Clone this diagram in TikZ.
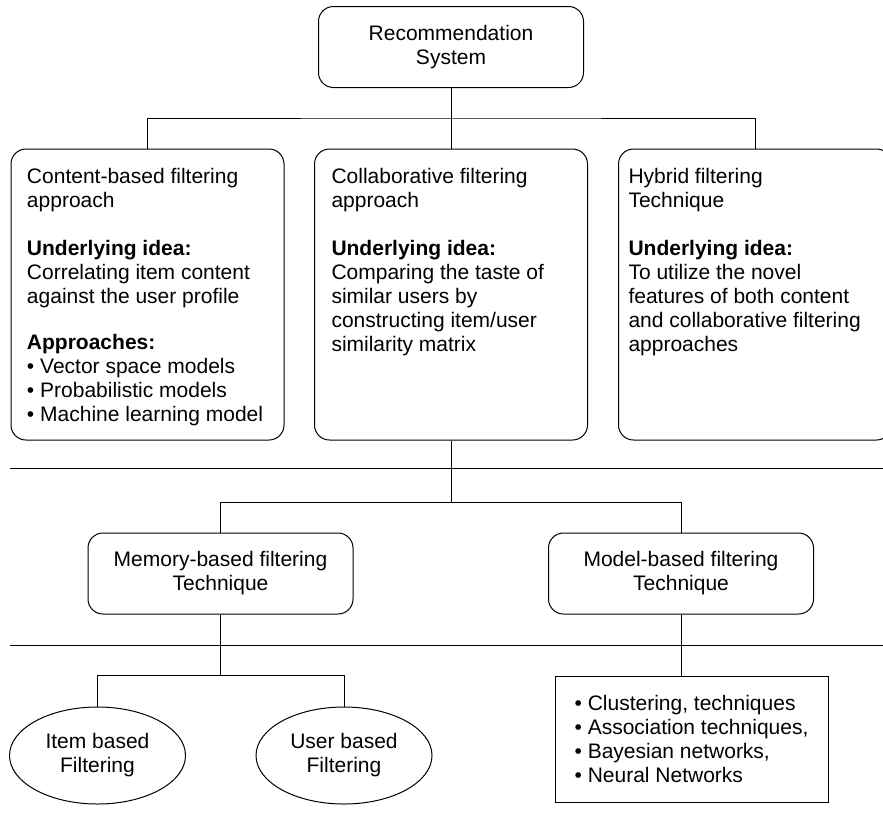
\documentclass[tikz,border=0pt]{standalone}
\usepackage{fontspec}
\setmainfont{Liberation Sans}
\usetikzlibrary{positioning,shapes.geometric}

\begin{document}
\begin{tikzpicture}[x=1pt, y=-1pt, line width=1pt,
        every node/.style={font=\fontsize{21}{24}\selectfont},
        headnode/.style={draw, rounded corners=15pt, minimum width=265pt, minimum height=81pt, align=center, inner sep=0pt},
        bigbox/.style={draw, rounded corners=15pt, minimum width=273pt, minimum height=291pt, inner sep=0pt},
        boxtext/.style={anchor=north west, align=left, inner sep=0pt},
        ovalnode/.style={draw, ellipse, minimum width=176pt, minimum height=97pt, align=center, inner sep=0pt},
        listbox/.style={draw, minimum width=273pt, minimum height=126pt, align=left, inner sep=0pt}]
        \useasboundingbox (0,0) rectangle (883,815);
        \clip (0,0) rectangle (883,815);
        % top level
        \node[headnode] (recsys) at (451,47) {Recommendation\\System};
        \node[bigbox] (content) at (147.5,294.5) {};
        \node[bigbox] (collab) at (451,294.5) {};
        \node[bigbox] (hybrid) at (755,294.5) {};
        \node[boxtext] (contenttxt) at ([shift={(16,19)}]content.north west) {Content-based filtering\\approach\\[24pt]
            \textbf{Underlying idea:}\\Correlating item content\\against the user profile\\[22pt]
            \textbf{Approaches:}\\\textbullet\ Vector space models\\\textbullet\ Probabilistic models\\\textbullet\ Machine learning model};
        \node[boxtext] (collabtxt) at ([shift={(17,19)}]collab.north west) {Collaborative filtering\\approach\\[24pt]
            \textbf{Underlying idea:}\\Comparing the taste of\\similar users by\\constructing item/user\\similarity matrix};
        \node[boxtext] (hybridtxt) at ([shift={(10,19)}]hybrid.north west) {Hybrid filtering\\Technique\\[24pt]
            \textbf{Underlying idea:}\\To utilize the novel\\features of both content\\and collaborative filtering\\approaches};
        \coordinate (topsplit) at (451,118);
        \draw (recsys.south) -- (collab.north);
        \draw (content.north) |- (topsplit) -| (hybrid.north);
        % separator rules
        \draw (10,468) -- (883,468);
        \draw (10,645) -- (883,645);
        % collaborative branch
        \node[headnode] (memory) at (220.5,573.5) {Memory-based filtering\\Technique};
        \node[headnode] (model) at (681,573.5) {Model-based filtering\\Technique};
        \coordinate (midsplit) at (451,502);
        \draw (collab.south) -- (midsplit);
        \draw (memory.north) |- (midsplit) -| (model.north);
        % leaves
        \node[ovalnode] (itembased) at (97.5,755.5) {Item based\\Filtering};
        \node[ovalnode] (userbased) at (344,755.5) {User based\\Filtering};
        \node[listbox] (modellist) at (691.5,739) {\textbullet\ Clustering, techniques\\\textbullet\ Association techniques,\\\textbullet\ Bayesian networks,\\\textbullet\ Neural Networks};
        \coordinate (lowsplit) at (220.5,675);
        \draw (memory.south) -- (lowsplit);
        \draw (itembased.north) |- (lowsplit) -| (userbased.north);
        \draw (model.south) -- (model.south |- modellist.north);
\end{tikzpicture}
\end{document}
